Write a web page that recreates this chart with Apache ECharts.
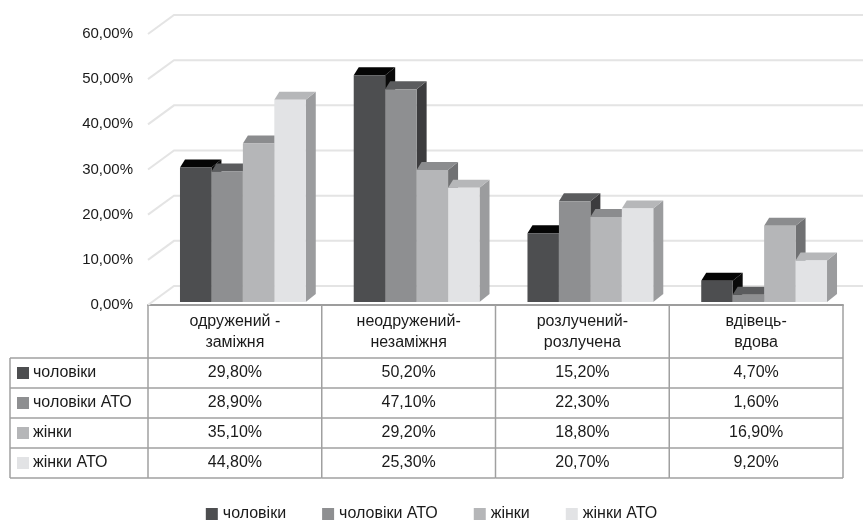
<!DOCTYPE html>
<html>
<head>
<meta charset="utf-8">
<script src="https://cdn.jsdelivr.net/npm/echarts@6/dist/echarts.min.js"></script>
<style>
html, body { margin: 0; padding: 0; background: #fff; }
#chart { width: 863px; height: 520px; }
</style>
</head>
<body>
<div id="chart"></div>
<script>
const categories = ['одружений -\nзаміжня', 'неодружений-\nнезаміжня', 'розлучений-\nрозлучена', 'вдівець-\nвдова'];
const seriesNames = ['чоловіки', 'чоловіки АТО', 'жінки', 'жінки АТО'];
const men = [29.8, 50.2, 15.2, 4.7];
const menATO = [28.9, 47.1, 22.3, 1.6];
const women = [35.1, 29.2, 18.8, 16.9];
const womenATO = [44.8, 25.3, 20.7, 9.2];
const yTicks = [0, 10, 20, 30, 40, 50, 60];

const seriesValues = [men, menATO, women, womenATO];
// front / top / side
const shades = [
  ['#4d4e50', '#050505', '#0a0a0a'],
  ['#8e8f91', '#5b5c5e', '#3c3c3e'],
  ['#b5b6b8', '#8b8c8e', '#707173'],
  ['#e2e3e5', '#b6b7b9', '#9b9c9e']
];
const font = '"Liberation Sans", Arial, sans-serif';
const pct = v => v.toFixed(2).replace('.', ',') + '%';

const chart = echarts.init(document.getElementById('chart'));

const gridSeries = {
  type: 'custom',
  z: 1,
  silent: true,
  data: yTicks.map(v => [0, v]),
  encode: { x: 0, y: 1 },
  renderItem: (params, api) => {
    const cs = params.coordSys;
    const y = api.coord([0, api.value(1)])[1];
    return {
      type: 'polyline',
      shape: { points: [[cs.x, y], [cs.x + 26, y - 19], [863, y - 19]] },
      style: { stroke: '#e4e4e4', lineWidth: 2, fill: null }
    };
  }
};

const barSeries = seriesNames.map((name, i) => ({
  name: name,
  type: 'custom',
  z: 2,
  itemStyle: { color: shades[i][0] },
  data: seriesValues[i].map((v, c) => [c, v]),
  encode: { x: 0, y: 1 },
  renderItem: (params, api) => {
    const c = api.value(0), v = api.value(1);
    const base = api.coord([c, 0]);
    const top = api.coord([c, v]);
    const bw = api.size([1, 0])[0] * 0.181;
    const x0 = base[0] + 8 - 2 * bw + i * bw, x1 = x0 + bw;
    const yb = base[1] - 3, yt = top[1] - 3;
    return {
      type: 'group',
      children: [
        { type: 'polygon', shape: { points: [[x1, yt], [x1 + 10, yt - 8], [x1 + 10, yb - 8], [x1, yb]] }, style: { fill: shades[i][2] } },
        { type: 'polygon', shape: { points: [[x0, yt], [x1, yt], [x1 + 10, yt - 8], [x0 + 5, yt - 8]] }, style: { fill: shades[i][1] } },
        { type: 'rect', shape: { x: x0, y: yt, width: bw, height: yb - yt }, style: { fill: shades[i][0] } }
      ]
    };
  }
}));

const tableSeries = {
  type: 'custom',
  z: 3,
  silent: true,
  data: categories.map((c, i) => [i, 0]),
  encode: { x: 0, y: 1 },
  renderItem: (params, api) => {
    const c = api.value(0);
    const p = api.coord([c, 0]);
    const band = api.size([1, 0])[0];
    const xl = p[0] - band / 2, xr = p[0] + band / 2;
    const rowTop = p[1] + 53, rowH = 30;
    const bottom = rowTop + 4 * rowH;
    const stroke = '#a0a0a0';
    const children = [];
    const ln = (x1, y1, x2, y2) => children.push({
      type: 'line', shape: { x1, y1, x2, y2 }, style: { stroke, lineWidth: 1.5 }
    });
    ln(xr, p[1], xr, bottom);
    for (let k = 0; k <= 4; k++) ln(xl, rowTop + k * rowH, xr, rowTop + k * rowH);
    seriesValues.forEach((vals, r) => {
      children.push({
        type: 'text',
        style: {
          text: pct(vals[c]), x: p[0], y: rowTop + r * rowH + rowH / 2,
          align: 'center', verticalAlign: 'middle', font: '16px ' + font, fill: '#1a1a1a'
        }
      });
    });
    if (c === 0) {
      ln(xl, p[1], xl, bottom);
      ln(10, rowTop, 10, bottom);
      for (let k = 0; k <= 4; k++) ln(10, rowTop + k * rowH, xl, rowTop + k * rowH);
      seriesNames.forEach((name, r) => {
        const yc = rowTop + r * rowH + rowH / 2;
        children.push({ type: 'rect', shape: { x: 17, y: yc - 6, width: 12, height: 12 }, style: { fill: shades[r][0] } });
        children.push({
          type: 'text',
          style: { text: name, x: 33, y: yc, align: 'left', verticalAlign: 'middle', font: '16px ' + font, fill: '#1a1a1a' }
        });
      });
    }
    return { type: 'group', children };
  }
};

const option = {
  backgroundColor: '#fff',
  animation: false,
  grid: { left: 148, right: 20, top: 34, bottom: 215 },
  legend: {
    data: seriesNames,
    left: 'center',
    top: 501,
    icon: 'rect',
    itemWidth: 12,
    itemHeight: 12,
    itemGap: 36,
    textStyle: { fontFamily: font, fontSize: 16, color: '#1a1a1a' }
  },
  xAxis: {
    type: 'category',
    data: categories,
    axisLine: { show: true, lineStyle: { color: '#9d9d9d', width: 2 } },
    axisTick: { show: false },
    axisLabel: {
      interval: 0,
      margin: 6,
      lineHeight: 21,
      fontFamily: font,
      fontSize: 16,
      color: '#1a1a1a'
    }
  },
  yAxis: {
    type: 'value',
    min: 0,
    max: 60,
    interval: 10,
    axisLine: { show: false },
    axisTick: { show: false },
    splitLine: { show: false },
    axisLabel: {
      margin: 15,
      fontFamily: font,
      fontSize: 15,
      color: '#1a1a1a',
      formatter: v => pct(v)
    }
  },
  series: [gridSeries].concat(barSeries, [tableSeries])
};

chart.setOption(option);
</script>
</body>
</html>
